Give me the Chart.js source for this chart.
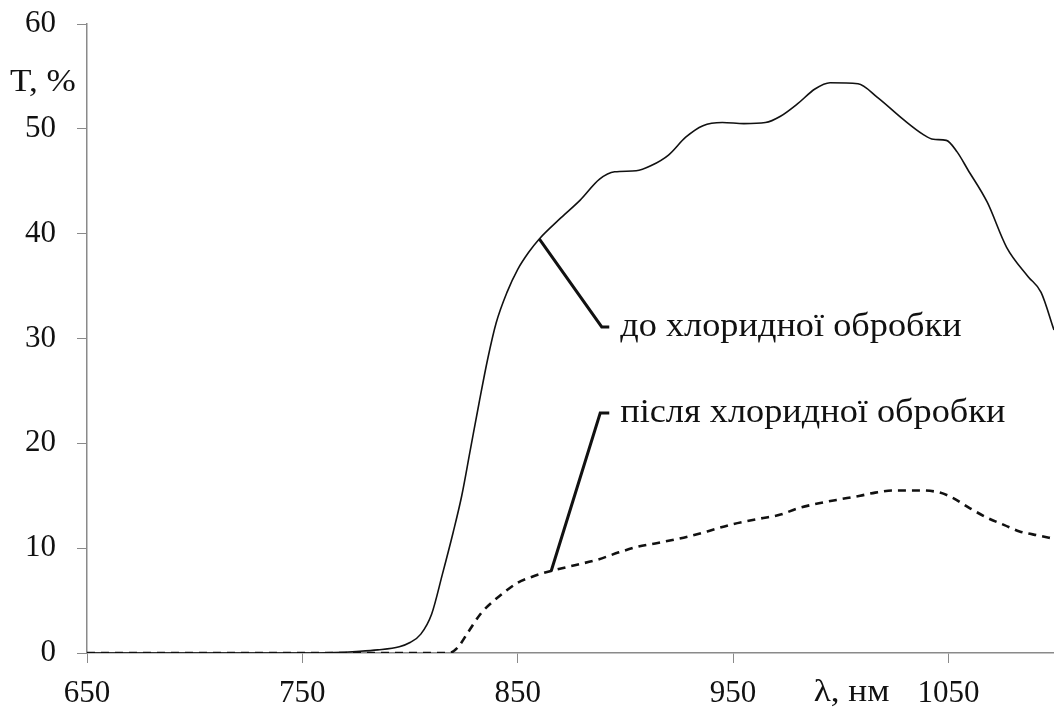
<!DOCTYPE html>
<html>
<head>
<meta charset="utf-8">
<script src="https://cdn.jsdelivr.net/npm/chart.js@4/dist/chart.umd.min.js"></script>
<style>
  html, body { margin: 0; padding: 0; background: #fff; }
  #wrap { width: 1054px; height: 711px; }
</style>
</head>
<body>
<div id="wrap"><canvas id="c" width="1054" height="711"></canvas></div>
<script>
// Transmission spectra before / after chloride treatment (T, % vs wavelength, nm).
const X_TICKS = [650, 750, 850, 950, 1050];
const Y_TICKS = [0, 10, 20, 30, 40, 50, 60];

const WL_BEFORE = [650, 700, 750, 765, 775, 785, 795, 800, 805, 810, 815, 820, 824, 828, 832, 836, 840, 845,
  850, 855, 860, 870, 879, 888, 895, 905, 912, 920, 928, 936, 945, 955, 965, 972, 980, 988, 995, 1008,
  1017, 1029, 1038, 1043, 1049, 1054, 1059, 1068, 1077, 1087, 1093, 1099];
const T_BEFORE = [0, 0, 0, 0.05, 0.15, 0.3, 0.6, 1.0, 1.8, 3.7, 7.5, 11.5, 15, 19.4, 23.8, 28, 31.5, 34.4,
  36.6, 38.2, 39.5, 41.5, 43.2, 45.2, 45.9, 46, 46.5, 47.5, 49.2, 50.3, 50.6, 50.5, 50.6, 51.2, 52.4, 53.8, 54.4, 54.3,
  53, 50.9, 49.5, 49, 48.9, 47.8, 46.1, 43, 38.7, 35.9, 34.4, 30.8];

const WL_AFTER = [650, 750, 818, 822, 827, 833, 839, 845, 850, 857, 865, 877, 887, 897, 905, 915, 927, 938,
  950, 962, 972, 980, 988, 998, 1009, 1016, 1024, 1038, 1046, 1052, 1060, 1068, 1076, 1083, 1092, 1099];
const T_AFTER = [0, 0, 0, 0.5, 2.0, 3.8, 5.0, 6.0, 6.7, 7.3, 7.8, 8.4, 8.9, 9.6, 10.1, 10.5, 11.0, 11.6,
  12.3, 12.8, 13.2, 13.8, 14.2, 14.6, 15.0, 15.3, 15.5, 15.5, 15.3, 14.8, 13.8, 12.9, 12.2, 11.6, 11.2, 10.9];

// leader lines (data units) and their captions
const LABEL_BEFORE = "до хлоридної обробки";
const LABEL_AFTER = "після хлоридної обробки";
const LEADER_BEFORE = [[860, 39.5], [889, 31.1], [892.5, 31.1]];
const LEADER_AFTER = [[865.5, 7.8], [888.3, 22.9], [892.5, 22.9]];
const CAPTION_AT = [[897.6, 31.1], [897.6, 22.9]];

const FONT = '"Liberation Serif", "Times New Roman", serif';
const AXIS = "#8a8a8a";
const INK = "#111";
const STRETCH = 1.1; // the source text is a little wider than plain Times
const PLOT_TOP = 24;

const pts = (xs, ys) => xs.map((x, i) => ({ x, y: ys[i] }));

function stretchedText(ctx, text, x, y, align) {
  ctx.save();
  ctx.translate(x, y);
  ctx.scale(STRETCH, 1);
  ctx.textAlign = align;
  ctx.fillText(text, 0, 0);
  ctx.restore();
}

const decor = {
  id: "decor",
  // pin the top of the plot area (chart.js keeps room for the "60" label otherwise)
  afterLayout(chart) {
    const y = chart.scales.y, area = chart.chartArea;
    area.top = PLOT_TOP;
    area.height = area.bottom - PLOT_TOP;
    y.top = PLOT_TOP;
    y.height = y.bottom - PLOT_TOP;
    y.configure();
  },
  beforeDraw(chart) {
    const { ctx } = chart;
    ctx.save();
    ctx.fillStyle = "#fff";
    ctx.fillRect(0, 0, chart.width, chart.height);
    ctx.restore();
  },
  afterDraw(chart) {
    const { ctx, scales: { x, y } } = chart;
    ctx.save();
    ctx.strokeStyle = INK;
    ctx.lineWidth = 3;
    [LEADER_BEFORE, LEADER_AFTER].forEach((line) => {
      ctx.beginPath();
      line.forEach(([a, b], i) => {
        const px = x.getPixelForValue(a), py = y.getPixelForValue(b);
        i ? ctx.lineTo(px, py) : ctx.moveTo(px, py);
      });
      ctx.stroke();
    });
    ctx.fillStyle = INK;
    ctx.font = `33px ${FONT}`;
    ctx.textBaseline = "middle";
    [LABEL_BEFORE, LABEL_AFTER].forEach((t, i) => {
      stretchedText(ctx, t, x.getPixelForValue(CAPTION_AT[i][0]), y.getPixelForValue(CAPTION_AT[i][1]), "left");
    });
    // axis titles
    ctx.font = `32px ${FONT}`;
    stretchedText(ctx, "T, %", 10, y.getPixelForValue(54.4), "left");
    stretchedText(ctx, "λ, нм", x.getPixelForValue(1005), 693, "center");
    ctx.restore();
  },
};

new Chart(document.getElementById("c"), {
  type: "line",
  data: {
    datasets: [
      { label: LABEL_BEFORE, data: pts(WL_BEFORE, T_BEFORE), borderColor: INK, borderWidth: 1.6,
        pointRadius: 0, cubicInterpolationMode: "monotone", fill: false },
      { label: LABEL_AFTER, data: pts(WL_AFTER, T_AFTER), borderColor: INK, borderWidth: 2.6,
        borderDash: [8, 6], pointRadius: 0, cubicInterpolationMode: "monotone", fill: false },
    ],
  },
  options: {
    responsive: false, animation: false, parsing: false,
    layout: { padding: { top: 24, right: 0, left: 0, bottom: 0 } },
    plugins: { legend: { display: false }, tooltip: { enabled: false } },
    scales: {
      x: {
        type: "linear", min: 650, max: 1099,
        afterBuildTicks: (s) => { s.ticks = X_TICKS.map((value) => ({ value })); },
        afterFit: (s) => { s.height = 58; },
        grid: { drawOnChartArea: false, drawTicks: true, tickLength: 10, color: AXIS },
        border: { color: AXIS, width: 1.5 },
        ticks: { color: INK, padding: 12, maxRotation: 0, font: { family: FONT, size: 31 },
          callback: (v) => String(v) },
      },
      y: {
        min: 0, max: 60,
        afterBuildTicks: (s) => { s.ticks = Y_TICKS.map((value) => ({ value })); },
        afterFit: (s) => { s.width = 87; },
        grid: { drawOnChartArea: false, drawTicks: true, tickLength: 10, color: AXIS },
        border: { color: AXIS, width: 1.5 },
        ticks: { color: INK, padding: 21, font: { family: FONT, size: 31 }, callback: (v) => String(v) },
      },
    },
  },
  plugins: [decor],
});
</script>
</body>
</html>
